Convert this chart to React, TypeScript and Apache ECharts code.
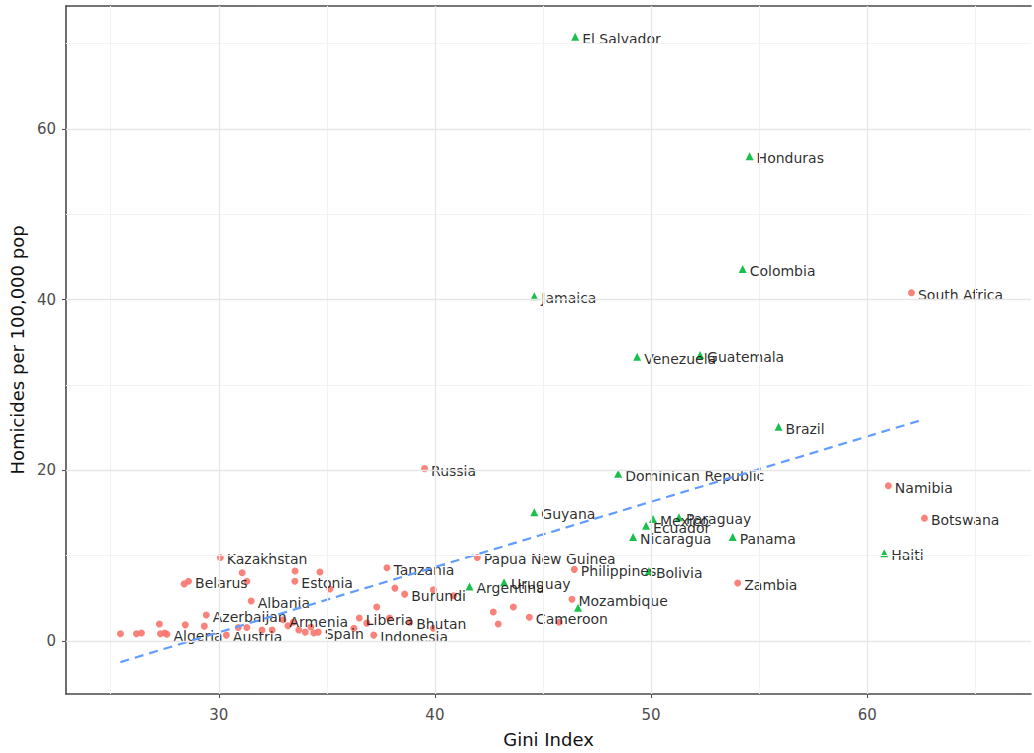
import React, { useEffect, useRef } from "react";
import * as echarts from "echarts";

// Labeled countries, low-homicide group (red circles)
const redNames = ["South Africa", "Namibia", "Botswana", "Zambia", "Russia", "Papua New Guinea", "Philippines", "Mozambique", "Cameroon", "Kazakhstan", "Belarus", "Estonia", "Albania", "Azerbaijan", "Armenia", "Algeria", "Austria", "Spain", "Tanzania", "Burundi", "Liberia", "Bhutan", "Indonesia"];
const redGini = [62.05, 60.98, 62.65, 54.01, 39.52, 41.96, 46.45, 46.34, 44.37, 30.07, 28.6, 33.52, 31.5, 29.42, 32.97, 27.6, 30.35, 34.6, 37.78, 38.6, 36.5, 38.83, 37.17];
const redHom = [40.8, 18.2, 14.4, 6.8, 20.2, 9.8, 8.4, 4.9, 2.8, 9.8, 7.0, 7.0, 4.7, 3.05, 2.5, 0.8, 0.7, 1.05, 8.6, 5.5, 2.7, 2.2, 0.7];

// Unlabeled red circles
const redOtherGini = [25.45, 26.19, 26.42, 27.25, 27.3, 27.5, 28.45, 29.33, 28.4, 31.08, 33.53, 34.68, 35.14, 31.3, 31.3, 32.0, 33.2, 33.45, 33.7, 34.0, 34.26, 34.4, 32.47, 30.9, 36.25, 36.85, 37.31, 37.9, 38.15, 39.93, 40.86, 39.93, 42.7, 42.93, 43.63, 45.75];
const redOtherHom = [0.85, 0.85, 0.95, 2.0, 0.85, 0.95, 1.9, 1.75, 6.7, 8.0, 8.2, 8.1, 6.1, 7.0, 1.6, 1.3, 1.8, 2.2, 1.3, 1.05, 1.65, 0.95, 1.3, 1.6, 1.5, 2.1, 4.0, 2.7, 6.2, 6.0, 5.3, 1.5, 3.4, 2.0, 4.0, 2.2];

// Labeled countries, high-homicide group (green triangles)
const greenNames = ["El Salvador", "Honduras", "Colombia", "Jamaica", "Venezuela", "Guatemala", "Brazil", "Dominican Republic", "Guyana", "Mexico", "Paraguay", "Ecuador", "Nicaragua", "Panama", "Haiti", "Bolivia", "Argentina", "Uruguay"];
const greenGini = [46.49, 54.56, 54.24, 44.6, 49.36, 52.27, 55.9, 48.48, 44.6, 50.09, 51.29, 49.77, 49.17, 53.78, 60.79, 49.9, 41.6, 43.2];
const greenHom = [70.8, 56.8, 43.6, 40.4, 33.3, 33.5, 25.1, 19.6, 15.1, 14.3, 14.5, 13.5, 12.2, 12.2, 10.3, 8.2, 6.4, 6.9];

// Unlabeled green triangle
const greenOtherGini = [46.62];
const greenOtherHom = [3.9];

// Linear fit
const fitIntercept = -21.93;
const fitSlope = 0.765;

// Axis ticks
const xTicks = [30, 40, 50, 60];
const yTicks = [0, 20, 40, 60];
const xMinor = [25, 35, 45, 55, 65];
const yMinor = [10, 30, 50, 70];

const RED = "#F8766D";
const GREEN = "#00BA38";
const BLUE = "#619CFF";

export default function App() {
  const ref = useRef<HTMLDivElement>(null);
  useEffect(() => {
    if (!ref.current) return;
    const chart = echarts.init(ref.current, null, { renderer: "svg" });

    const labelStyle = {
      show: true,
      position: "right" as const,
      distance: 3,
      offset: [0, 2],
      formatter: "{b}",
      color: "#111",
      fontFamily: "DejaVu Sans",
      fontSize: 14,
    };

    const redData = [
      ...redOtherGini.map((g, i) => ({ value: [g, redOtherHom[i]], name: "", label: { show: false } })),
      ...redGini.map((g, i) => ({ value: [g, redHom[i]], name: redNames[i] })),
    ];
    const greenData = [
      ...greenOtherGini.map((g, i) => ({ value: [g, greenOtherHom[i]], name: "", label: { show: false } })),
      ...greenGini.map((g, i) => ({ value: [g, greenHom[i]], name: greenNames[i] })),
    ];

    const allGini = [...redGini, ...redOtherGini, ...greenGini, ...greenOtherGini];
    const gMin = Math.min(...allGini);
    const gMax = Math.max(...allGini);
    const fitData = [
      [gMin, fitIntercept + fitSlope * gMin],
      [gMax, fitIntercept + fitSlope * gMax],
    ];

    const axisLineStyle = { color: "#4a4a4a", width: 1.6 };

    chart.setOption({
      animation: false,
      backgroundColor: "#fff",
      grid: { left: 63, top: 6, right: 3, bottom: 59 },
      xAxis: [
        {
          type: "value",
          min: 22.93,
          max: 67.58,
          name: "Gini Index",
          nameLocation: "middle",
          nameGap: 36,
          nameTextStyle: { fontFamily: "DejaVu Sans", fontSize: 18, color: "#111" },
          axisLine: { show: true, onZero: false, lineStyle: axisLineStyle },
          axisTick: { show: true, customValues: xTicks, length: 4, lineStyle: { color: "#4a4a4a" } },
          axisLabel: { customValues: xTicks, margin: 13, fontFamily: "DejaVu Sans", fontSize: 15, color: "#4d4d4d" },
          splitLine: { show: false },
        },
        {
          type: "value",
          position: "top",
          min: 22.93,
          max: 67.58,
          axisLine: { show: true, onZero: false, lineStyle: axisLineStyle },
          axisTick: { show: false },
          axisLabel: { show: false },
          splitLine: { show: false },
        },
      ],
      yAxis: {
        type: "value",
        min: -6.2,
        max: 74.4,
        name: "Homicides per 100,000 pop",
        nameLocation: "middle",
        nameGap: 36,
        nameTextStyle: { fontFamily: "DejaVu Sans", fontSize: 18, color: "#111" },
        axisLine: { show: true, onZero: false, lineStyle: axisLineStyle },
        axisTick: { show: true, customValues: yTicks, length: 4, lineStyle: { color: "#4a4a4a" } },
        axisLabel: { customValues: yTicks, margin: 10, fontFamily: "DejaVu Sans", fontSize: 15, color: "#4d4d4d" },
        splitLine: { show: false },
      },
      series: [
        {
          type: "line",
          data: [],
          silent: true,
          z: 0,
          markLine: {
            silent: true,
            symbol: "none",
            label: { show: false },
            animation: false,
            data: [
              ...xMinor.map((v) => ({ xAxis: v, lineStyle: { color: "#f2f2f2", width: 1, type: "solid" } })),
              ...yMinor.map((v) => ({ yAxis: v, lineStyle: { color: "#f2f2f2", width: 1, type: "solid" } })),
              ...xTicks.map((v) => ({ xAxis: v, lineStyle: { color: "#e6e6e6", width: 1.3, type: "solid" } })),
              ...yTicks.map((v) => ({ yAxis: v, lineStyle: { color: "#e6e6e6", width: 1.3, type: "solid" } })),
            ],
          },
        },
        {
          type: "scatter",
          symbol: "circle",
          symbolSize: 7,
          itemStyle: { color: RED, opacity: 0.9 },
          label: labelStyle,
          data: redData,
          z: 3,
        },
        {
          type: "scatter",
          symbol: "triangle",
          symbolSize: 8,
          itemStyle: { color: GREEN, opacity: 0.9 },
          label: labelStyle,
          data: greenData,
          z: 3,
        },
        {
          type: "line",
          data: fitData,
          symbol: "none",
          lineStyle: { color: BLUE, width: 2.2, type: [9, 6] },
          z: 4,
        },
      ],
    });
    return () => chart.dispose();
  }, []);
  return <div ref={ref} style={{ position: "absolute", left: 0, top: 0, width: 1034, height: 753 }} />;
}
